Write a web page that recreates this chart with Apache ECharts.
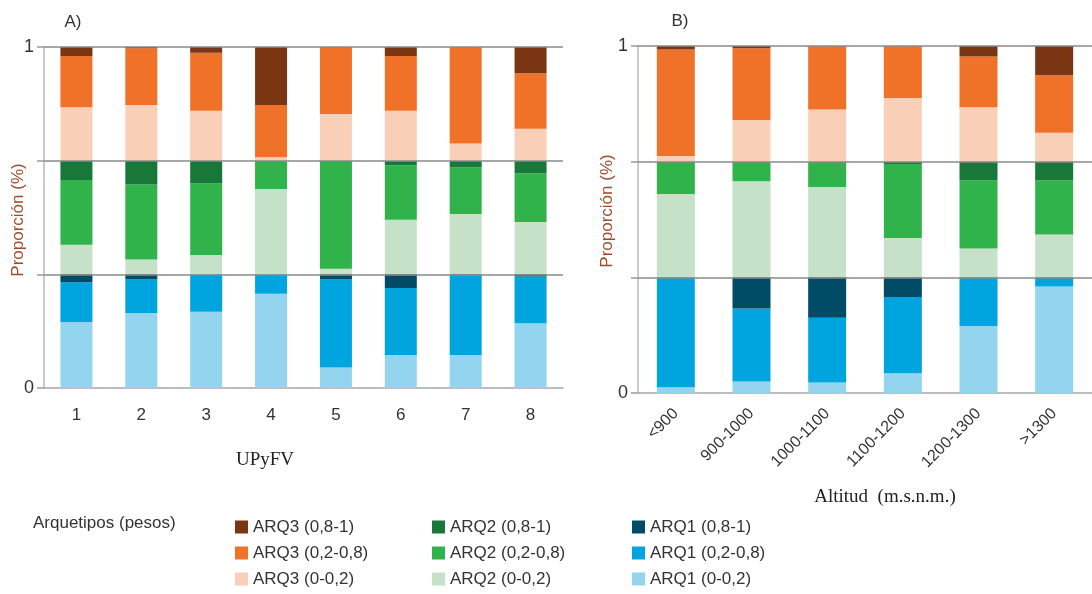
<!DOCTYPE html>
<html>
<head>
<meta charset="utf-8">
<script src="https://cdn.jsdelivr.net/npm/echarts@6/dist/echarts.min.js"></script>
<style>html,body{margin:0;padding:0;background:#fff}#c{width:1092px;height:594px}</style>
</head>
<body>
<div id="c"></div>
<script>
// Categories
const categoriesA = ['1', '2', '3', '4', '5', '6', '7', '8'];
const categoriesB = ['<900', '900-1000', '1000-1100', '1100-1200', '1200-1300', '>1300'];

// Series names (bottom to top of stack)
const seriesNames = [
  'ARQ1 (0-0,2)', 'ARQ1 (0,2-0,8)', 'ARQ1 (0,8-1)',
  'ARQ2 (0-0,2)', 'ARQ2 (0,2-0,8)', 'ARQ2 (0,8-1)',
  'ARQ3 (0-0,2)', 'ARQ3 (0,2-0,8)', 'ARQ3 (0,8-1)'
];

// Panel A values (percent within each archetype; each archetype fills one third of the axis)
const A_ARQ1_low  = [58, 66, 67, 83, 18, 29, 29, 57];
const A_ARQ1_mid  = [35, 30, 33, 17, 78, 59, 70, 41];
const A_ARQ1_high = [7, 4, 0, 0, 4, 12, 1, 2];
const A_ARQ2_low  = [26, 13, 17, 75, 5, 48, 53, 46];
const A_ARQ2_mid  = [57, 66, 63, 25, 95, 48, 41, 43];
const A_ARQ2_high = [17, 21, 20, 0, 0, 4, 6, 11];
const A_ARQ3_low  = [47, 49, 44, 3, 41, 44, 15, 28];
const A_ARQ3_mid  = [45, 50, 51, 46, 59, 48, 85, 49];
const A_ARQ3_high = [8, 1, 5, 51, 0, 8, 0, 23];

// Panel B values
const B_ARQ1_low  = [5, 10, 9, 17, 58, 92];
const B_ARQ1_mid  = [95, 63, 56, 66, 42, 8];
const B_ARQ1_high = [0, 27, 35, 17, 0, 0];
const B_ARQ2_low  = [72, 83, 78, 34, 25, 37];
const B_ARQ2_mid  = [28, 17, 22, 64, 59, 47];
const B_ARQ2_high = [0, 0, 0, 2, 16, 16];
const B_ARQ3_low  = [5, 36, 45, 55, 47, 25];
const B_ARQ3_mid  = [92, 62, 55, 45, 44, 50];
const B_ARQ3_high = [3, 2, 0, 0, 9, 25];

// Y tick labels
const yTickLabels = {0: '0', 300: '1'};

const panelA = [A_ARQ1_low, A_ARQ1_mid, A_ARQ1_high, A_ARQ2_low, A_ARQ2_mid, A_ARQ2_high, A_ARQ3_low, A_ARQ3_mid, A_ARQ3_high];
const panelB = [B_ARQ1_low, B_ARQ1_mid, B_ARQ1_high, B_ARQ2_low, B_ARQ2_mid, B_ARQ2_high, B_ARQ3_low, B_ARQ3_mid, B_ARQ3_high];

const colors = ['#93d5ee', '#00a5df', '#004b66', '#c5e2c8', '#30b34b', '#18783a', '#f9cfb8', '#f07128', '#7a3612'];

const FONT = 'Liberation Sans, Arial, sans-serif';
const SERIF = 'Liberation Serif, Times New Roman, serif';

function makeSeries(vals, idx, stack, barWidth) {
  return vals.map((d, i) => {
    const s = {
      name: seriesNames[i], type: 'bar', stack: stack, data: d,
      xAxisIndex: idx, yAxisIndex: idx, barWidth: barWidth,
      itemStyle: {color: colors[i]}
    };
    if (i === vals.length - 1) {
      s.markLine = {
        silent: true, symbol: ['none', 'none'], label: {show: false},
        lineStyle: {color: '#8a8a8a', width: 1.5, type: 'solid'},
        data: [{yAxis: 100}, {yAxis: 200}, {yAxis: 300}]
      };
    }
    return s;
  });
}

function yAxis(idx) {
  return {
    type: 'value', gridIndex: idx, min: 0, max: 300, interval: 100,
    axisLine: {show: true, lineStyle: {color: '#b8b8b8', width: 1.5}},
    axisTick: {show: true, length: 7, lineStyle: {color: '#9a9a9a', width: 1.5}},
    splitLine: {show: false},
    axisLabel: {
      margin: 10, fontSize: 18, color: '#333', fontFamily: FONT,
      formatter: v => (yTickLabels[v] !== undefined ? yTickLabels[v] : '')
    }
  };
}

const legendBase = {
  orient: 'vertical', itemWidth: 13, itemHeight: 13, itemGap: 6, icon: 'rect',
  textStyle: {fontSize: 17, lineHeight: 20, color: '#333', fontFamily: FONT},
  top: 517, height: 100, padding: 0
};

const option = {
  animation: false,
  backgroundColor: '#fff',
  grid: [
    {left: 44, right: 529, top: 47, bottom: 206},
    {left: 638, right: -4, top: 46, bottom: 201}
  ],
  xAxis: [
    {
      type: 'category', gridIndex: 0, data: categoriesA,
      axisLine: {lineStyle: {color: '#a8a8a8', width: 1.5}},
      axisTick: {length: 6, lineStyle: {color: '#9a9a9a', width: 1.5}},
      axisLabel: {margin: 19, fontSize: 17, color: '#333', fontFamily: FONT}
    },
    {
      type: 'category', gridIndex: 1, data: categoriesB,
      axisLine: {lineStyle: {color: '#a8a8a8', width: 1.5}},
      axisTick: {length: 6, lineStyle: {color: '#9a9a9a', width: 1.5}},
      axisLabel: {margin: 18, fontSize: 16, rotate: 45, color: '#333', fontFamily: FONT}
    }
  ],
  yAxis: [yAxis(0), yAxis(1)],
  legend: [
    Object.assign({}, legendBase, {left: 235, data: ['ARQ3 (0,8-1)', 'ARQ3 (0,2-0,8)', 'ARQ3 (0-0,2)']}),
    Object.assign({}, legendBase, {left: 432, data: ['ARQ2 (0,8-1)', 'ARQ2 (0,2-0,8)', 'ARQ2 (0-0,2)']}),
    Object.assign({}, legendBase, {left: 632, data: ['ARQ1 (0,8-1)', 'ARQ1 (0,2-0,8)', 'ARQ1 (0-0,2)']})
  ],
  graphic: [
    {type: 'text', x: 73, y: 22, style: {text: 'A)', font: '17px ' + FONT, fill: '#333', align: 'center', verticalAlign: 'middle'}},
    {type: 'text', x: 680, y: 21, style: {text: 'B)', font: '17px ' + FONT, fill: '#333', align: 'center', verticalAlign: 'middle'}},
    {type: 'text', x: 18, y: 220, rotation: Math.PI / 2, style: {text: 'Proporción (%)', font: '17px ' + FONT, fill: '#a04a2a', align: 'center', verticalAlign: 'middle'}},
    {type: 'text', x: 607, y: 211, rotation: Math.PI / 2, style: {text: 'Proporción (%)', font: '17px ' + FONT, fill: '#a04a2a', align: 'center', verticalAlign: 'middle'}},
    {type: 'text', x: 265, y: 460, style: {text: 'UPyFV', font: '19px ' + SERIF, fill: '#222', align: 'center', verticalAlign: 'middle'}},
    {type: 'text', x: 885, y: 497, style: {text: 'Altitud  (m.s.n.m.)', font: '19px ' + SERIF, fill: '#222', align: 'center', verticalAlign: 'middle'}},
    {type: 'text', x: 33, y: 523, style: {text: 'Arquetipos (pesos)', font: '17px ' + FONT, fill: '#333', align: 'left', verticalAlign: 'middle'}}
  ],
  series: makeSeries(panelA, 0, 'A', 32).concat(makeSeries(panelB, 1, 'B', 38))
};

const chart = echarts.init(document.getElementById('c'), null, {renderer: 'canvas'});
chart.setOption(option);
</script>
</body>
</html>
